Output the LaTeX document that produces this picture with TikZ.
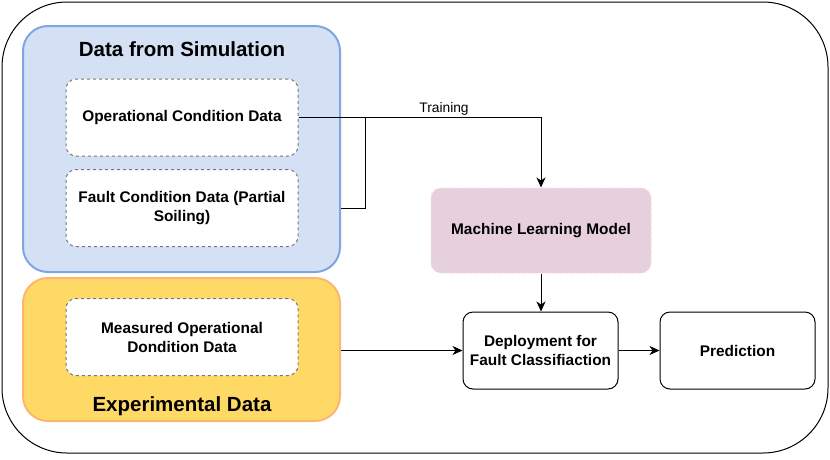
\documentclass[tikz,border=0pt]{standalone}
\usepackage{fontspec}
\setmainfont{Liberation Sans}
\usetikzlibrary{arrows.meta}
\definecolor{simfill}{HTML}{D4E1F5}
\definecolor{simdraw}{HTML}{7EA6E0}
\definecolor{expfill}{HTML}{FFD966}
\definecolor{expdraw}{HTML}{FFB570}
\definecolor{mlfill}{HTML}{E6D0DE}
\definecolor{mldraw}{HTML}{F0DDEA}
\definecolor{dashgray}{HTML}{777777}
\tikzset{
  group/.style={rectangle, rounded corners=25pt, line width=2pt},
  dashline/.style={line width=1pt, dash pattern=on 3pt off 3pt},
  inner/.style={rectangle, rounded corners=10pt, draw=dashgray, dashline, fill=white,
    minimum width=232pt, minimum height=77pt, align=center, inner sep=0pt,
    font=\fontsize{15.4}{19}\selectfont\bfseries},
  proc/.style={rectangle, rounded corners=10pt, draw=black, line width=1pt, fill=white,
    minimum width=155pt, minimum height=77pt, align=center, inner sep=0pt,
    font=\fontsize{15.4}{18.5}\selectfont\bfseries},
  title/.style={font=\fontsize{20.5}{24}\selectfont\bfseries, inner sep=0pt},
  conn/.style={line width=1pt, draw=black},
  arr/.style={conn, -{Stealth[length=10pt,width=9pt,inset=3pt]}},
}
\begin{document}
\begin{tikzpicture}[x=1pt,y=-1pt]
\useasboundingbox (0,0) rectangle (830,459);
\draw[line width=1pt, rounded corners=65pt] (2,2) rectangle (828,453);
% groups
\node[group, draw=simdraw, fill=simfill, minimum width=317pt, minimum height=246pt] (sim) at (181.5,149) {};
\node[group, draw=expdraw, fill=expfill, minimum width=317pt, minimum height=143pt] (exp) at (181.5,349.5) {};
\node[title] (simt) at (182,49) {Data from Simulation};
\node[title] (expt) at (182,406) {Experimental Data};
% inner boxes
\node[inner] (op) at (182,117.5) {Operational Condition Data};
\node[inner] (fault) at (182,208) {Fault Condition Data (Partial\\Soiling)};
\node[inner] (meas) at (182,337) {Measured Operational\\Dondition Data};
% process boxes
\node[proc, draw=mldraw, fill=mlfill, dashline, minimum width=220pt, minimum height=85pt] (ml) at (541,230.5) {Machine Learning Model};
\node[proc] (dep) at (540.5,350.5) {Deployment for\\Fault Classifiaction};
\node[proc] (pred) at (737.5,350.5) {Prediction};
% connectors
\coordinate (j) at (365,117.5);
\draw[arr] (op.east) -- (ml.north |- op.east) node[pos=0.6, above=2pt, font=\fontsize{13.8}{16}\selectfont, inner sep=0pt] {Training} -- (ml.north);
\draw[conn] (sim.east |- fault.east) -| (j);
\draw[arr] (ml.south) -- (ml.south |- dep.north);
\draw[arr] (exp.east |- dep.west) -- (dep.west);
\draw[arr] (dep.east) -- (pred.west);
\end{tikzpicture}
\end{document}
